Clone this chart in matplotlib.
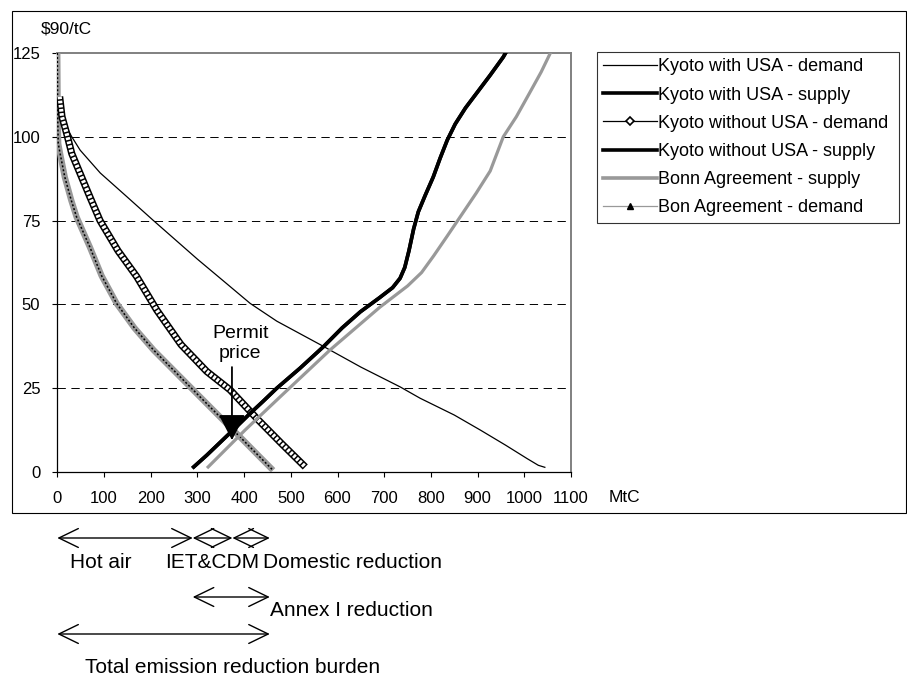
import matplotlib
matplotlib.use("Agg")
import matplotlib.pyplot as plt
from matplotlib.lines import Line2D
from matplotlib.patches import Rectangle, ArrowStyle

plt.rcParams['font.family'] = ['Liberation Sans', 'DejaVu Sans']
plt.rcParams['lines.scale_dashes'] = False

# ---------------------------------------------------------------------------
# data (x in MtC, y in $90/tC)
# ---------------------------------------------------------------------------
kyoto_usa_dem_x = [0, 15, 31, 49, 92, 150, 206, 300, 360, 413, 470, 563, 650, 734, 777, 850, 906, 960, 1006, 1030, 1044]
kyoto_usa_dem_y = [110, 104, 100, 96, 89.2, 82, 75, 63.5, 56.5, 50.3, 45, 38, 31.3, 25.4, 22, 17, 12.5, 8, 4, 2, 1.4]

kyoto_sup_x = [292, 320, 350, 380, 413, 440, 470, 520, 570, 610, 649, 690, 718, 734, 744, 753, 763, 773, 788, 805, 820, 835, 852, 874, 900, 927, 955, 964]
kyoto_sup_y = [1.5, 5, 9, 13, 17.5, 21, 25, 31, 37.4, 43, 47.8, 52, 55, 57.8, 61, 66, 72.5, 77.6, 82.6, 88, 93.7, 99, 103.8, 108.6, 113.4, 118.4, 123.8, 126]

kyoto_nousa_dem_x = [5, 10, 20, 31, 49, 70, 91.5, 130, 170, 213, 265, 320, 370, 427, 480, 531]
kyoto_nousa_dem_y = [112, 106, 101, 95, 89, 82, 75, 66, 58.3, 48.3, 38, 30, 24.5, 16, 8.5, 1.5]

bonn_sup_x = [323, 402, 477, 584, 691, 750, 780, 806, 835, 867, 897, 927, 955, 983, 1011, 1036, 1060]
bonn_sup_y = [1.5, 12.5, 22.4, 36.4, 49.2, 55.5, 59.5, 64.5, 70.4, 77, 83.2, 89.8, 100, 106, 113, 119.3, 126.2]

bonn_dem_x = [0, 0.5, 1, 2, 6, 16, 30, 41.5, 70, 95, 127, 165, 206, 263, 330, 391, 430, 462]
bonn_dem_y = [125, 115, 105, 98, 95, 88, 81, 76, 67, 58.5, 50.3, 43, 36.4, 28.4, 19, 10.5, 5, 0.5]

series_labels = ["Kyoto with USA - demand", "Kyoto with USA - supply",
                 "Kyoto without USA - demand", "Kyoto without USA - supply",
                 "Bonn Agreement - supply", "Bon Agreement - demand"]

x_ticks = [0, 100, 200, 300, 400, 500, 600, 700, 800, 900, 1000, 1100]
y_ticks = [0, 25, 50, 75, 100, 125]

permit_price = (374, 9.5)

# bracket arrows under the chart (MtC ranges)
hot_air = (0, 290)
iet_cdm = (290, 375)
domestic = (375, 455)
annex_i = (290, 455)
total_burden = (0, 455)

# ---------------------------------------------------------------------------
W, H = 907, 679
GREY = "#999999"


def fx(px):
    return px / W


def fy(py):
    return 1 - py / H


fig = plt.figure(figsize=(W / 100, H / 100), dpi=100)
fig.patches.append(Rectangle((fx(11.5), fy(513)), fx(906) - fx(11.5), fy(11) - fy(513),
                             transform=fig.transFigure, fill=False, ec="black", lw=0.8))

ax = fig.add_axes([fx(57.3), fy(472), fx(571) - fx(57.3), fy(53) - fy(472)])
ax.set_xlim(0, 1100)
ax.set_ylim(0, 125)
ax.set_xticks(x_ticks)
ax.set_yticks(y_ticks)
ax.tick_params(direction="out", length=3.6, width=0.8, labelsize=12, colors="black")
ax.tick_params(axis="y", pad=8.6)
ax.tick_params(axis="x", pad=10)
for s in ("top", "right"):
    ax.spines[s].set_color("#808080")
    ax.spines[s].set_linewidth(1.4)
for s in ("left", "bottom"):
    ax.spines[s].set_linewidth(0.9)
for yv in y_ticks[1:-1]:
    ax.axhline(yv, color="black", lw=0.7, ls=(0, (6, 4)), zorder=1)

# Kyoto with USA - demand
ax.plot(kyoto_usa_dem_x, kyoto_usa_dem_y, color="black", lw=0.9, zorder=3)

# Bonn Agreement - demand: grey band with dense black triangles
ax.plot(bonn_dem_x, bonn_dem_y, color=GREY, lw=4.5, solid_capstyle="butt", zorder=3)
ax.plot(bonn_dem_x, bonn_dem_y, color="black", lw=1.1, ls=(0, (1.4, 1.5)), zorder=3)

# Kyoto without USA - demand: chain of open diamonds
ax.plot(kyoto_nousa_dem_x, kyoto_nousa_dem_y, color="black", lw=5.2, solid_capstyle="butt", zorder=4)
ax.plot(kyoto_nousa_dem_x, kyoto_nousa_dem_y, color="white", lw=3.0, ls=(0, (1.9, 1.1)), zorder=4)

# supplies
ax.plot(bonn_sup_x, bonn_sup_y, color=GREY, lw=2.3, zorder=5)
ax.plot(kyoto_sup_x, kyoto_sup_y, color="black", lw=2.6, zorder=5)
ax.plot(kyoto_sup_x, kyoto_sup_y, color="black", lw=2.6, zorder=5)

# permit price
ax.text(392, 38.3, "Permit\nprice", ha="center", va="center", fontsize=14, linespacing=1.2, zorder=6)
ax.annotate("", xy=permit_price, xytext=(permit_price[0], 31.3),
            arrowprops=dict(arrowstyle=ArrowStyle("-|>", head_length=16, head_width=8.3),
                            mutation_scale=1, color="black", lw=1.3,
                            shrinkA=0, shrinkB=0), zorder=7)

# legend
handles = [
    Line2D([], [], color="black", lw=0.9),
    Line2D([], [], color="black", lw=2.6),
    Line2D([], [], color="black", lw=0.9, marker="D", ms=4.5, mfc="white", mec="black", mew=1.2),
    Line2D([], [], color="black", lw=2.6),
    Line2D([], [], color=GREY, lw=2.6),
    Line2D([], [], color=GREY, lw=0.9, marker="^", ms=5, mfc="black", mec="black"),
]
leg = fig.legend(handles, series_labels, loc="upper left",
                 bbox_to_anchor=(fx(597), fy(220), fx(899) - fx(597), fy(52) - fy(220)),
                 mode="expand", fontsize=13, frameon=True, fancybox=False, shadow=False,
                 handlelength=3.0, handletextpad=0.05, labelspacing=0.62, borderpad=0.35,
                 borderaxespad=0)
leg.get_frame().set_edgecolor("black")
leg.get_frame().set_linewidth(0.8)

fig.text(fx(66), fy(29), "$90/tC", ha="center", va="center", fontsize=12.5)
fig.text(fx(609), fy(497), "MtC", ha="left", va="center", fontsize=12.5)

# brackets under the axis
arrow_kw = dict(arrowstyle=ArrowStyle("<->", head_length=14, head_width=6.8),
                mutation_scale=1, color="black", lw=1.0, shrinkA=0, shrinkB=0)
for rng, py in [(hot_air, 538), (iet_cdm, 538), (domestic, 538), (annex_i, 597), (total_burden, 634)]:
    ax.annotate("", xy=(rng[1], fy(py)), xytext=(rng[0], fy(py)),
                xycoords=("data", "figure fraction"), textcoords=("data", "figure fraction"),
                arrowprops=arrow_kw, annotation_clip=False)

fig.text(fx(70), fy(568), "Hot air", ha="left", va="baseline", fontsize=15)
fig.text(fx(259), fy(568), "IET&CDM", ha="right", va="baseline", fontsize=15)
fig.text(fx(263), fy(568), "Domestic reduction", ha="left", va="baseline", fontsize=15)
fig.text(fx(270), fy(616), "Annex I reduction", ha="left", va="baseline", fontsize=15)
fig.text(fx(85), fy(673), "Total emission reduction burden", ha="left", va="baseline", fontsize=15)

fig.savefig("out.png", dpi=100)
